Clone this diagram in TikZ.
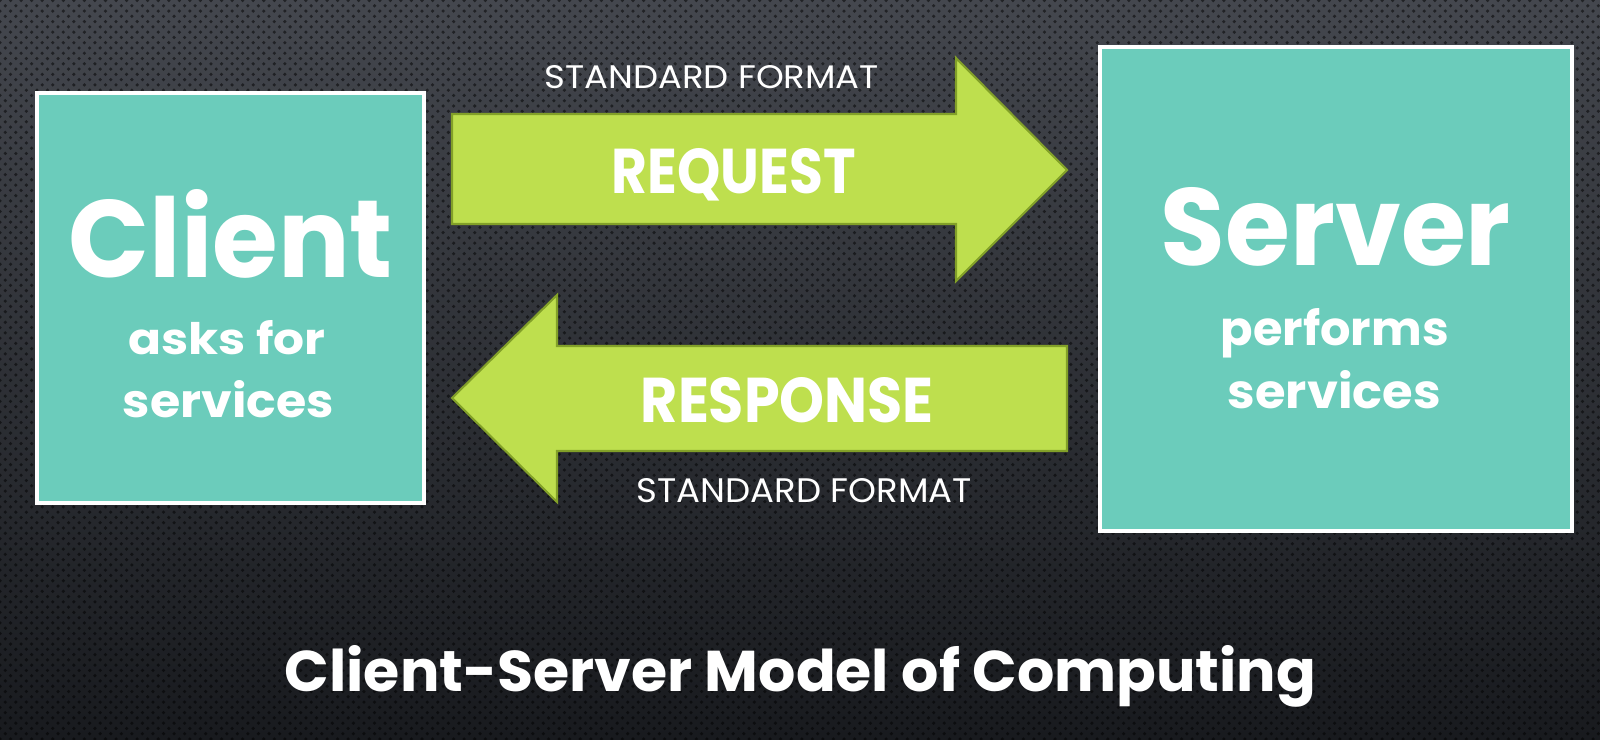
\documentclass[tikz,border=0pt]{standalone}
\usepackage{graphicx}
\usepackage{fontspec}
\setmainfont{Poppins}
\usetikzlibrary{patterns}
\definecolor{bgtop}{RGB}{68,71,78}
\definecolor{bgmid}{RGB}{46,49,55}
\definecolor{bgbot}{RGB}{24,26,30}
\definecolor{boxteal}{RGB}{107,204,187}
\definecolor{limefill}{RGB}{190,223,78}
\definecolor{limeedge}{RGB}{130,160,40}
\tikzset{
  box/.style={draw=white, line width=1pt, fill=boxteal, inner sep=0, anchor=north west},
  blockarrow/.style={fill=limefill, draw=limeedge, line width=0.6pt, line join=miter},
  txt/.style={anchor=base west, inner sep=0, text=white},
}
\begin{document}
\begin{tikzpicture}[x=0.01cm,y=-0.01cm]
\useasboundingbox (0,0) rectangle (1600,739);
\shade[top color=bgtop, middle color=bgmid, bottom color=bgbot] (0,0) rectangle (1600,739);
\fill[pattern=crosshatch dots, pattern color=black, fill opacity=0.5] (0,0) rectangle (1600,739);

% boxes
\node[box, minimum width=3.87cm, minimum height=4.10cm] (client) at (35,91) {};
\node[box, minimum width=4.72cm, minimum height=4.84cm] (server) at (1098,45) {};

% block arrows
\draw[blockarrow] (452,114) -- (956,114) -- (956,58) -- (1067,170) -- (956,281) -- (956,224) -- (452,224) -- cycle;
\draw[blockarrow] (1067,346) -- (557,346) -- (557,295) -- (452,398) -- (557,502) -- (557,451) -- (1067,451) -- cycle;

% client text
\node[txt] (clientname) at (68,277) {\resizebox{3.24cm}{0.88cm}{\bfseries Client}};
\node[txt] (clientl1) at (128,354) {\resizebox{1.97cm}{0.34cm}{\bfseries asks for}};
\node[txt] (clientl2) at (122,417) {\resizebox{2.11cm}{0.37cm}{\bfseries services}};

% server text
\node[txt] (servername) at (1160,265) {\resizebox{3.50cm}{0.78cm}{\bfseries Server}};
\node[txt] (serverl1) at (1220,345) {\resizebox{2.28cm}{0.37cm}{\bfseries performs}};
\node[txt] (serverl2) at (1227,408) {\resizebox{2.13cm}{0.38cm}{\bfseries services}};

% arrow labels
\node[txt] (req) at (611,193) {\resizebox{2.44cm}{0.45cm}{\bfseries REQUEST}};
\node[txt] (reqfmt) at (544,88) {\resizebox{3.34cm}{0.23cm}{STANDARD FORMAT}};
\node[txt] (resp) at (640,422) {\resizebox{2.93cm}{0.45cm}{\bfseries RESPONSE}};
\node[txt] (respfmt) at (636,502) {\resizebox{3.35cm}{0.24cm}{STANDARD FORMAT}};

% title
\node[txt] (title) at (284,691) {\resizebox{10.31cm}{0.46cm}{\bfseries Client-Server Model of Computing}};
\end{tikzpicture}
\end{document}
